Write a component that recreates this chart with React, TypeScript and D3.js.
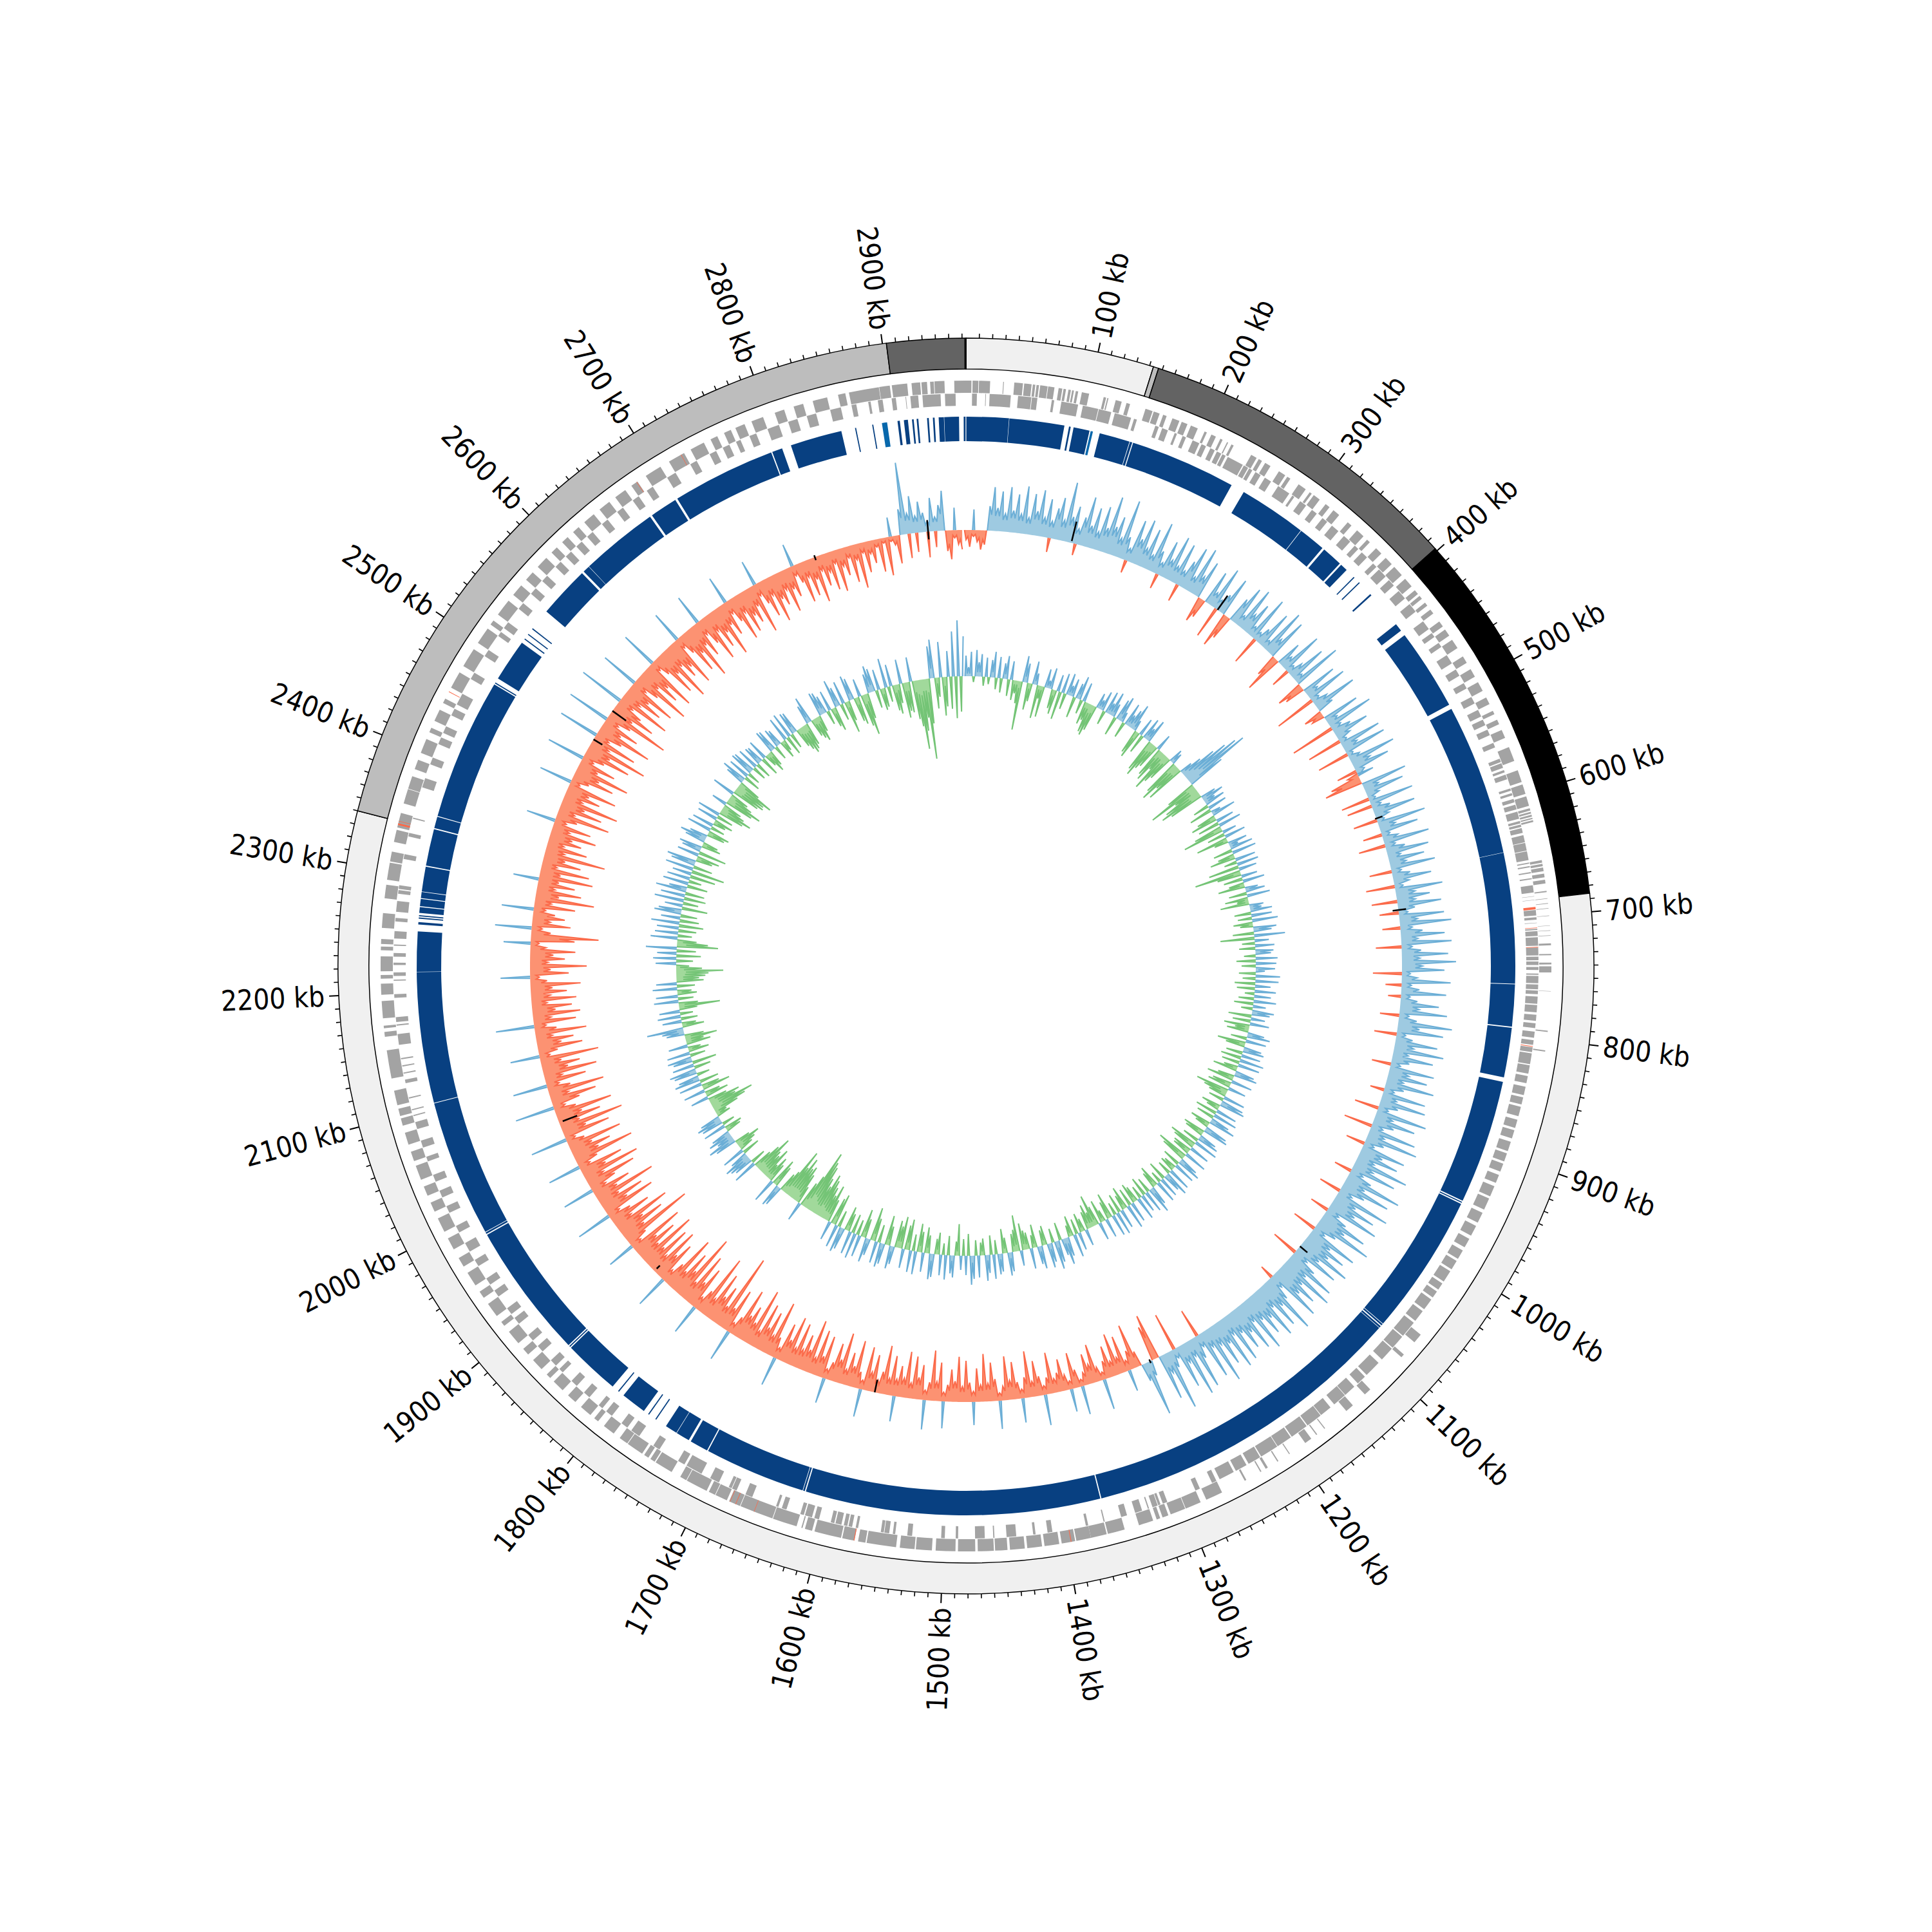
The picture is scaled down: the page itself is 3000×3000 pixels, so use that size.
import React from "react";
import * as d3 from "d3";

const genomeKb = 2963;

// outer ring regions: [start kb, end kb]
const regionStarts = [0, 143, 147, 398, 686, 2340, 2903];
const regionEnds = [143, 147, 398, 686, 2340, 2903, 2963];
const regionColors = ["#f0f0f0", "#bdbdbd", "#636363", "#000000", "#f0f0f0", "#bdbdbd", "#636363"];

const tickKb = d3.range(10, 2961, 10);

// conserved blocks ring
const blockDark: number[][] = [
  [0.3, 37], [37.3, 85], [89, 90.5], [93, 107], [116, 142.5], [143, 145], [145.8, 238], [250, 309], [309.5, 333], [335, 353],
  [354.5, 361], [369.5, 370.5], [376, 377], [390, 391.5], [424, 431], [436, 507], [511, 642.5], [642.8, 756], [756.5, 793],
  [794, 837], [841, 949], [950, 951], [952, 1075], [1075.5, 1077], [1078, 1079.5], [1080, 1364], [1365, 1621], [1622, 1623.5],
  [1624, 1712], [1713, 1729], [1731, 1743], [1743.4, 1754], [1764, 1765], [1771.5, 1772.5], [1777, 1799], [1804, 1805],
  [1811, 1860], [1861, 1862], [1863, 1981], [1982, 1983.5], [1984, 2103], [2103.5, 2217], [2217.3, 2252], [2258, 2260],
  [2263, 2264], [2265, 2266], [2268, 2273], [2273.7, 2280], [2280.7, 2286], [2286.5, 2308], [2309, 2341], [2342, 2352],
  [2352.7, 2476], [2477, 2478], [2482, 2519], [2522.5, 2523.5], [2527.5, 2528.5], [2533.5, 2534.5], [2553, 2598], [2600, 2606],
  [2606.3, 2674], [2676, 2700], [2702, 2792], [2793, 2802], [2810, 2855], [2867, 2868], [2882, 2883], [2904, 2906],
  [2909.5, 2913], [2916.5, 2918], [2920.5, 2922], [2929.5, 2931], [2934.5, 2936], [2939.5, 2944], [2944.3, 2957], [2961, 2962.6],
];
const blockLight: number[][] = [[108, 110], [2890.5, 2895]];

// genes, forward strand
const genesPlus: number[][] = [
  [0, 4.4], [5.3, 10], [10.5, 19.5], [30, 30.6], [39, 46], [47, 53], [54, 56], [57, 59], [60, 66], [66.5, 71.6], [75, 78], [79, 81],
  [83, 85], [86, 87.5], [89, 91], [94, 100], [112, 114], [115, 116], [122, 127], [131, 134], [147, 153], [154, 159], [162, 165],
  [170, 176], [178, 183], [186, 192], [198, 200], [204, 208], [212, 214], [218, 219], [222, 224], [240, 245], [247, 250], [253, 258],
  [266, 272], [274, 277], [285, 292], [296, 298], [300, 306], [312, 316], [320, 326], [335, 339], [345, 352], [356, 359], [366, 372],
  [377, 384], [387, 396], [400, 408], [412, 416], [418, 421], [425, 428], [432, 436], [444, 449], [452, 458], [462, 470], [478, 484],
  [490, 497], [502, 510], [516, 522], [528, 531], [536, 540], [545, 552], [560, 572], [580, 590], [592, 600], [602, 610], [612, 614],
  [615, 616.5], [617.5, 619], [620, 621], [622, 623.5], [655, 657], [658, 660], [661, 664], [666, 669], [671, 674], [680, 681],
  [686, 686.4], [690, 690.5], [694, 694.4], [700, 700.3], [708, 708.3], [712, 712.3], [716, 716.3], [722.5, 724], [731, 732], [738, 739.5],
  [741, 746], [761, 761.3], [793, 794], [809, 810], [1062, 1070], [1083, 1086], [1122, 1128], [1141, 1148], [1170, 1170.8], [1178, 1179],
  [1184, 1190], [1205, 1205.8], [1216, 1217], [1226, 1228], [1232, 1233], [1246, 1247.5], [1268, 1282], [1287, 1300], [1300.5, 1313],
  [1315, 1320], [1322, 1325], [1328, 1340], [1352, 1366], [1367, 1380], [1380, 1392], [1393, 1404], [1406, 1418], [1420, 1432],
  [1434, 1446], [1448, 1458], [1459, 1472], [1474, 1488], [1490, 1506], [1509, 1522], [1523, 1535], [1538, 1562], [1563, 1569],
  [1572, 1582], [1583, 1605], [1607, 1613], [1615, 1616], [1620, 1640], [1640.5, 1668], [1668.5, 1678], [1680, 1690], [1690.5, 1696],
  [1698, 1716], [1716.5, 1722], [1730, 1745], [1746, 1750], [1752, 1756], [1758, 1772], [1772.5, 1780], [1786, 1796], [1802, 1806],
  [1810, 1820], [1826, 1834], [1840, 1850], [1854, 1858], [1864, 1874], [1880, 1886], [1892, 1904], [1910, 1914], [1920, 1932],
  [1938, 1944], [1950, 1962], [1968, 1976], [1984, 1994], [2000, 2012], [2018, 2026], [2032, 2040], [2046, 2058], [2062, 2070],
  [2076, 2086], [2092, 2098], [2100, 2106], [2109, 2121], [2131, 2154], [2165, 2169], [2172, 2174], [2180, 2194], [2199, 2208],
  [2212, 2215], [2218, 2230], [2235, 2238], [2240, 2244], [2253, 2265], [2277, 2288], [2292, 2306], [2307, 2315], [2323, 2333],
  [2335, 2347], [2355, 2367], [2367.5, 2378], [2384, 2392], [2398, 2410], [2416, 2420], [2426, 2436], [2442, 2446], [2456, 2470],
  [2476, 2492], [2498, 2512], [2516, 2520], [2526, 2540], [2546, 2556], [2562, 2570], [2576, 2586], [2592, 2598], [2604, 2610],
  [2616, 2622], [2628, 2638], [2644, 2654], [2660, 2670], [2676, 2682], [2690, 2704], [2712, 2726], [2732, 2744], [2750, 2756],
  [2762, 2768], [2772, 2780], [2786, 2796], [2806, 2814], [2822, 2830], [2838, 2850], [2859, 2865], [2868, 2892.5], [2892.8, 2901.4],
  [2903, 2915.5], [2919, 2926], [2927, 2931.5], [2934, 2937], [2937.5, 2945.6], [2953.5, 2963],
];

// genes, reverse strand
const genesMinus: number[][] = [
  [5, 9], [16, 16.5], [19.5, 37], [43, 54], [54.5, 59], [71, 73], [79, 93], [97, 110], [110.5, 121], [124, 138], [140.5, 143],
  [159, 162], [165, 170], [176, 178], [183, 186], [192, 198], [200, 204], [208, 212], [214, 218], [219, 222], [224, 238], [239, 243],
  [244, 247], [250, 255], [259, 265], [272, 283], [286, 288], [294, 300], [306, 311], [317, 322], [327, 334], [340, 347], [352, 356],
  [360, 366], [373, 377], [380, 388], [392, 398], [404, 412], [418, 426], [436, 444], [448, 452], [458, 462], [470, 478], [484, 490],
  [497, 502], [510, 516], [522, 528], [531, 536], [540, 545], [552, 556], [566, 569], [570, 574], [576, 578], [580, 584], [592, 594],
  [596, 598], [601, 604], [606, 610], [612, 618], [620, 622], [623, 625], [626, 630], [632, 638], [638.5, 645], [645.5, 653], [655, 656],
  [658, 659], [663, 664], [668, 669], [674, 680], [683, 683.3], [686, 686.3], [694.5, 699], [700.5, 702.5], [705, 705.3], [710, 711],
  [712, 716], [717, 724], [725.5, 732], [733, 736], [737, 740], [741.5, 744], [747, 748], [749, 755], [756, 760], [761, 764], [766, 772],
  [773, 779], [781, 786], [788, 792], [795, 800], [802, 806], [808, 812], [813, 822], [823, 830], [832, 838], [841, 848], [850, 856],
  [858, 866], [869, 876], [878, 885], [888, 896], [898, 905], [907, 914], [917, 924], [927, 936], [938, 948], [951, 960], [963, 972],
  [975, 983], [986, 994], [996, 1004], [1006, 1016], [1018, 1024], [1026, 1032], [1034, 1044], [1046, 1056], [1058, 1072], [1073, 1085],
  [1086, 1098], [1102, 1116], [1118, 1126], [1130, 1140], [1140.5, 1152], [1156, 1166], [1166.5, 1180], [1181, 1196], [1197, 1210],
  [1210.5, 1226], [1227, 1238], [1240, 1250], [1252, 1265], [1268, 1272], [1283, 1287], [1312, 1316], [1318, 1320], [1320.5, 1325],
  [1328, 1329], [1334, 1340], [1347, 1352], [1366, 1367], [1380, 1382], [1410, 1414], [1424, 1426], [1440, 1448], [1458, 1459],
  [1466, 1474], [1488, 1490], [1499, 1502], [1526, 1530], [1540, 1542], [1545, 1549], [1549.5, 1552], [1571, 1573], [1576, 1579],
  [1580, 1583], [1585, 1590], [1591, 1594], [1604, 1608], [1610, 1616], [1617, 1620], [1632, 1636], [1639, 1641], [1662, 1668],
  [1676, 1680], [1680.5, 1683], [1692, 1700], [1708, 1722], [1724, 1730], [1748, 1754], [1768, 1776], [1780, 1786], [1796, 1802],
  [1806, 1810], [1820, 1826], [1834, 1840], [1850, 1854], [1858, 1864], [1874, 1880], [1886, 1892], [1904, 1910], [1914, 1920],
  [1932, 1938], [1944, 1950], [1962, 1968], [1976, 1984], [1994, 2000], [2012, 2018], [2026, 2032], [2040, 2046], [2058, 2062],
  [2070, 2076], [2086, 2092], [2097, 2098], [2102, 2103], [2112, 2113], [2125, 2128], [2133, 2134], [2139, 2140], [2145, 2146],
  [2157, 2166], [2173, 2174], [2176, 2180], [2196, 2199], [2210, 2211], [2214, 2217], [2223, 2225], [2230, 2233], [2239, 2240],
  [2245, 2251], [2259, 2262], [2267, 2276], [2282, 2285], [2286, 2289], [2311, 2315], [2330, 2333], [2345, 2346], [2372, 2380],
  [2392, 2398], [2410, 2416], [2420, 2426], [2436, 2442], [2446, 2456], [2470, 2476], [2492, 2498], [2512, 2516], [2520, 2526],
  [2540, 2546], [2556, 2562], [2570, 2576], [2586, 2592], [2598, 2604], [2610, 2616], [2622, 2628], [2638, 2644], [2654, 2660],
  [2670, 2676], [2684, 2690], [2704, 2712], [2726, 2732], [2744, 2750], [2756, 2762], [2768, 2772], [2780, 2786], [2796, 2806],
  [2814, 2822], [2830, 2838], [2850, 2859], [2868, 2872], [2882, 2884], [2890, 2894], [2901.5, 2905], [2913, 2913.5], [2917, 2923.5],
  [2927, 2942], [2945.6, 2954.4],
];

// rRNA / tRNA genes
const redPlus: number[][] = [[2337, 2338.5], [2340, 2340.4], [2452, 2452.5], [2681, 2681.4], [2723, 2723.4], [1572, 1572.6], [1656, 1656.4], [1672, 1672.5], [1677, 1677.4], [1396, 1396.6]];
const redMinus: number[][] = [[692, 694], [709, 709.4], [725, 725.5], [807, 807.5]];

// outer signal track, one value per equal window
const skewValues: number[] = [
  -15,-26,32,-18,-30,-22,38,68,36,62,28,70,34,60,30,74,26,64,38,72,30,60,-22,48,
  66,32,93,40,58,-18,44,78,34,64,28,70,38,90,44,62,30,93,36,-20,68,40,74,30,
  64,24,80,36,-24,58,30,72,26,66,-28,44,70,24,76,32,60,-40,-30,54,22,68,-50,30,
  62,-55,-38,40,64,18,70,30,52,16,72,-45,26,60,14,74,28,66,-35,-60,40,20,68,-30,
  24,60,14,78,-42,-32,56,20,66,-65,24,70,26,-30,-20,58,18,74,-70,30,56,22,-55,66,
  24,68,-50,18,74,30,58,-32,26,-48,-60,72,24,62,20,-45,70,-40,28,66,22,-38,76,26,
  60,-30,24,72,-42,30,66,20,56,26,70,-35,28,60,24,-45,74,30,52,-40,68,26,-30,70,
  28,80,-28,34,68,26,78,-40,30,72,28,84,32,66,-45,24,76,-25,28,70,-20,26,60,30,
  74,-30,28,84,34,72,-35,26,66,30,78,24,64,28,-30,70,32,62,26,76,30,-22,68,24,
  72,30,-38,80,28,66,34,-45,74,26,82,30,-30,70,36,64,28,86,32,72,-28,38,90,34,
  78,40,-35,88,36,72,42,84,-30,38,76,44,92,36,-38,80,40,70,46,86,38,74,-42,44,
  82,38,90,42,72,48,86,-22,40,94,44,76,36,84,46,70,40,88,34,78,44,68,36,80,
  30,84,38,70,32,92,28,76,-45,36,82,26,88,30,68,-60,28,94,32,72,-72,-55,24,86,
  28,-24,-70,-30,34,-58,-26,-66,-24,-50,-28,48,-22,-60,-30,-48,-20,45,-28,-56,36,-24,-50,-30,
  -22,-64,-26,48,-30,-55,-24,-72,-32,38,-26,-58,-30,-68,-22,44,-34,-60,-28,-74,-26,-52,36,-30,
  -64,-24,-70,-32,-50,-26,42,-60,-30,-78,-28,46,-54,-34,-66,-24,-72,-30,-48,40,-62,-26,-76,-34,
  -20,-58,-30,-68,44,-26,-74,-32,-52,-24,-80,-36,-60,-28,40,-66,-32,-72,-26,-84,-34,-56,-30,-70,
  -28,-76,-36,-60,46,-32,-88,-30,-66,-38,-74,-26,-92,-34,-58,-40,-80,-30,50,-70,-36,-122,-32,-62,
  -42,-78,-30,-100,-36,48,-68,-40,-84,-32,-110,-44,-72,-34,-90,-38,52,-66,-42,-82,-30,-76,-36,-94,
  -34,-70,-40,-88,44,-32,-115,-38,-76,-44,-92,-30,-66,-36,56,-84,-42,-72,-34,-98,-38,-62,50,-44,
  -80,-30,-92,-40,-70,52,-34,-96,-42,-64,-36,-86,-28,58,-74,-38,-100,-32,-68,-40,-90,-34,62,-44,
  -72,-30,-88,-36,54,-64,-28,-84,-40,-60,-32,-92,46,-30,-70,-38,-58,-26,-80,-34,60,-66,-28,-74,
  -36,-62,-24,-70,-30,-56,-34,-78,-26,46,-60,-32,-88,-28,-54,-36,-70,-24,42,-68,-105,-30,57,-60,
  -28,-50,-34,50,-64,-26,-92,-36,-70,-28,-58,40,-84,-32,-76,-24,-60,-34,-96,-30,-64,-26,-52,-36,
  -72,-28,-60,46,-34,-84,-26,-68,-38,-90,-30,-56,-36,-78,52,-28,-66,-40,-86,-32,-58,60,-34,-74,
  -38,-96,-30,-72,64,-42,-88,-34,-60,68,-40,-100,-36,-70,-44,72,-84,-30,-64,-38,-78,60,-42,-92,
  -34,-66,-44,-84,58,-30,-72,-40,-90,-36,-60,-46,-80,50,-32,-70,-42,-88,-36,-58,48,-44,-76,-30,
  -62,-40,-82,-34,-54,44,-38,-72,-30,-66,-42,-56,-32,-78,40,-36,-60,-28,-74,-40,-52,-30,-68,-34,
  -48,36,-30,-64,-26,-58,-34,-72,-24,-50,-30,-60,-20,-66,-28,-44,-18,-58,-24,-70,-16,-48,-20,-36,
  -12,-52,-8,-60,30,-14,-44,40,112,-38,58,-30,48,30,-40,52,-25,40,62,-32,-45,35,-22,-30,
];

// short black windows in the outer track: [kb, low, high]
const blackWindows: number[][] = [
  [115, 3, 34], [290, 0, 27], [578, -2, 10], [680, -9, 12], [1070, 0, 15], [1276, -3, 3], [1581, -20, 0], [1857, -12, -5],
  [2049, -30, -6], [2480, -16, 0], [2517, -26, 0], [2796, -5, 3], [2922, -12, 18],
];

// inner signal track, one value per equal window
const gcValues: number[] = [
  32,14,38,-9,41,22,35,-14,30,-11,27,40,-18,33,-22,24,36,-26,29,-31,-20,-35,-76,41,
  30,-42,-28,36,18,-52,-20,-48,29,12,33,-30,-38,26,-44,31,-25,34,16,28,-33,24,37,-22,
  30,-36,-28,-46,-50,-40,24,15,31,-22,35,18,38,21,-30,33,40,16,-25,36,19,30,42,17,
  -38,-44,28,-30,34,20,37,-52,-60,-45,-38,26,-48,-55,-32,-66,-50,-40,22,18,-58,-70,-45,-62,
  20,35,58,78,95,107,60,-48,-82,-40,-60,-70,-55,24,35,18,32,-25,30,-36,15,38,-30,-42,
  28,-34,36,-45,-65,22,-28,33,-50,-22,30,14,36,-30,38,-26,-40,32,-20,34,-48,28,-73,-38,
  25,-30,34,-24,-42,20,30,-28,36,-36,-18,-45,22,18,34,-26,32,-22,40,-30,-20,36,28,-33,
  48,-53,22,-20,30,-25,28,24,-18,34,-30,32,-22,30,14,-26,38,-20,36,-32,24,-28,33,-15,
  26,-24,35,-30,20,-18,34,28,-36,22,-28,30,-40,-22,-34,26,36,-25,32,-44,-30,28,33,-26,
  30,-32,38,-28,34,-22,-38,30,36,-26,-42,33,-30,-36,28,-52,-38,-28,34,-24,36,40,-30,-20,
  33,-34,38,-28,30,42,-32,-22,36,40,-35,-30,28,34,-26,38,-44,-36,32,-30,-28,36,-50,-40,
  30,38,-28,34,-20,-24,36,-22,40,28,-30,32,-18,35,-34,-26,30,42,-24,34,-30,28,-20,36,
  -25,-32,32,-28,38,-36,-24,30,-30,36,-20,34,-40,-28,30,-18,-36,28,-30,-50,-24,-38,-28,26,
  -20,-30,28,-24,36,-32,-18,30,42,26,-28,34,44,-22,30,38,-30,-24,36,28,-36,-20,32,-26,
  -30,-42,24,-56,-34,-28,30,36,-24,-38,28,32,-22,38,-30,28,40,-26,-20,34,-24,36,45,-34,
  30,-26,22,-49,-22,34,28,-30,38,-18,32,-34,-24,36,40,-28,-40,30,-32,-44,36,-26,34,-48,
  -38,30,-50,-34,-42,28,36,-30,-46,32,38,-28,34,-36,-52,26,38,-30,-44,34,-24,40,-30,36,
  -28,-38,34,40,-26,36,-50,-42,30,-36,-58,-40,-52,-62,-70,-48,-60,-78,-85,-99,-55,-40,30,-28,
  -48,-60,-55,-70,-52,-78,-38,-30,32,36,-34,-44,38,-30,-40,-24,-50,-36,-42,-63,-45,-30,38,-24,
  30,36,42,28,-28,36,-22,-30,-40,-25,34,44,26,38,30,-24,-28,36,-20,34,40,32,-22,-18,
  -40,-55,-69,-42,-50,-30,28,-36,-24,34,-44,-28,36,-30,40,32,-20,36,42,-26,34,-38,30,38,
  -24,36,-32,-20,30,-38,-28,-50,-30,28,34,57,-34,-22,30,-26,36,-20,32,-28,-64,-30,38,-24,
  34,-30,-22,38,-28,32,-42,-35,-45,-50,-73,-40,-20,32,-26,36,-38,30,-30,48,-64,-48,-30,42,
  -22,36,-28,34,-38,44,-30,30,-26,42,36,-40,28,-24,46,-34,38,-30,48,28,-32,40,-20,36,
  -40,30,-52,44,-30,38,46,-26,-36,34,-44,30,36,-30,-24,32,42,28,-28,-34,38,-22,34,-20,
  -30,32,-26,36,-40,-52,-38,-30,24,-45,-58,-40,-30,36,-44,-52,-50,-61,-35,30,40,-26,34,-20,
  38,36,-22,34,-25,30,28,-30,32,-20,-33,-25,36,34,-22,30,26,-28,-18,38,-30,40,-24,36,
  34,-30,-38,-46,-42,-36,30,42,-28,-34,-40,-26,38,36,28,-22,32,-30,-38,44,30,-26,36,-50,
  -32,40,34,-38,-44,28,-50,-65,-40,30,42,36,-28,32,-34,-30,46,-24,34,-40,-46,-30,38,-55,
  -45,-48,38,-60,-72,-108,-80,-60,-125,-70,50,60,-48,-30,55,-60,-46,40,-50,70,-65,87,-55,62,
];

const cx = 1500;
const cy = 1500;
const angle = d3.scaleLinear().domain([0, genomeKb]).range([0, 2 * Math.PI]);
const deg = (kb: number) => (angle(kb) * 180) / Math.PI;

type Pt = { i: number; v: number };

// Each window is drawn as its own narrow spike; `valley` sets how far the outline
// falls back towards the baseline between two neighbouring windows of one sign.
function runsOf(vals: number[], sign: number, bridge: boolean, valley: number): Pt[][] {
  const at = (k: number) => (k >= 0 && k < vals.length ? vals[k] * sign : 0);
  const out: Pt[][] = [];
  let cur: Pt[] | null = null;
  const add = (p: Pt) => {
    if (!cur) {
      cur = [{ i: p.i - 0.4, v: 0 }];
    } else {
      const last = cur[cur.length - 1];
      cur.push({ i: (last.i + p.i) / 2, v: Math.min(last.v, p.v) * valley });
    }
    cur.push(p);
  };
  vals.forEach((raw, i) => {
    const v = raw * sign;
    const p = at(i - 1);
    const n = at(i + 1);
    const isoOpp = bridge && v <= 0 && p > 0 && n > 0 && (at(i - 2) > 0 || at(i + 2) > 0);
    const isoSame = bridge && v > 0 && p <= 0 && n <= 0 && (at(i - 2) <= 0 || at(i + 2) <= 0);
    if (isoOpp) {
      add({ i, v: Math.min(p, n) * 0.55 });
    } else if (isoSame) {
      out.push([{ i: i - 0.28, v: 0 }, { i, v }, { i: i + 0.28, v: 0 }]);
    } else if (v > 0) {
      add({ i, v });
    } else if (cur) {
      cur.push({ i: i - 0.6, v: 0 });
      out.push(cur);
      cur = null;
    }
  });
  if (cur) out.push(cur);
  return out;
}

function Track({ vals, base, posFill, posLine, negFill, negLine, bridge, valley }: any) {
  const idx = d3.scaleLinear().domain([0, vals.length]).range([0, genomeKb]);
  const draw = (sign: number, fill: string, lineCol: string) => {
    const runs = runsOf(vals, sign, bridge, valley);
    const area = d3
      .areaRadial<Pt>()
      .angle((d) => angle(idx(d.i)))
      .innerRadius(base)
      .outerRadius((d) => base + sign * d.v);
    const line = d3
      .lineRadial<Pt>()
      .angle((d) => angle(idx(d.i)))
      .radius((d) => base + sign * d.v);
    return (
      <g key={sign}>
        <path d={runs.map((x) => area(x)).join("")} fill={fill} stroke="none" />
        <path d={runs.map((x) => line(x)).join("")} fill="none" stroke={lineCol} strokeWidth={2} />
      </g>
    );
  };
  return (
    <g>
      {draw(1, posFill, posLine)}
      {draw(-1, negFill, negLine)}
    </g>
  );
}

const arc = d3.arc();
function sector(kb0: number, kb1: number, r0: number, r1: number) {
  return arc({ innerRadius: r0, outerRadius: r1, startAngle: angle(kb0), endAngle: angle(kb1) }) as string;
}

export default function App() {
  const Rout = 975;
  const Rin = 927;
  return (
    <svg width={3000} height={3000} viewBox="0 0 3000 3000" style={{ position: "absolute", left: 0, top: 0, display: "block", background: "#fff" }}>
      <g transform={`translate(${cx},${cy})`}>
        {regionStarts.map((s, i) => (
          <path key={i} d={sector(s, regionEnds[i], Rin, Rout)} fill={regionColors[i]} stroke="#000" strokeWidth={1.5} />
        ))}
        <path d={sector(genomeKb - 1.2, genomeKb, Rin, Rout)} fill="#000" />

        {tickKb.map((kb) => {
          const major = kb % 100 === 0;
          const a = deg(kb);
          return (
            <line key={kb} x1={0} x2={0} y1={-Rout} y2={-(Rout + (major ? 15 : 7))} stroke="#000" strokeWidth={major ? 2 : 1.6} transform={`rotate(${a})`} />
          );
        })}
        {tickKb
          .filter((kb) => kb % 100 === 0)
          .map((kb) => {
            const a = deg(kb);
            const flip = a > 180;
            return (
              <text
                key={kb}
                transform={`rotate(${a}) translate(0,${-(Rout + 22)}) rotate(${flip ? 90 : -90})`}
                textAnchor={flip ? "end" : "start"}
                dominantBaseline="central"
                fontFamily="'DejaVu Sans'"
                fontSize={44}
                style={{ fontStretch: "condensed" }}
                fill="#000"
              >
                {`${kb} kb`}
              </text>
            );
          })}

        {genesPlus.map((g, i) => (
          <path key={i} d={sector(g[0], g[1], 890, 909)} fill="#a3a3a3" />
        ))}
        {genesMinus.map((g, i) => (
          <path key={i} d={sector(g[0], g[1], 870, 889)} fill="#a3a3a3" />
        ))}
        {redPlus.map((g, i) => (
          <path key={i} d={sector(g[0], g[1], 890, 909)} fill="#fb6a4a" />
        ))}
        {redMinus.map((g, i) => (
          <path key={i} d={sector(g[0], g[1], 870, 889)} fill="#fb6a4a" />
        ))}

        {blockDark.map((g, i) => (
          <path key={i} d={sector(g[0], g[1], 815, 853)} fill="#084081" />
        ))}
        {blockLight.map((g, i) => (
          <path key={i} d={sector(g[0], g[1], 815, 853)} fill="#0868ac" />
        ))}

        <Track vals={skewValues} base={677} posFill="#9ecae1" posLine="#6baed6" negFill="#fc9272" negLine="#fb6a4a" bridge={true} valley={0.65} />
        {blackWindows.map((w, i) => (
          <line key={i} x1={0} x2={0} y1={-(677 + w[1])} y2={-(677 + w[2])} stroke="#000" strokeWidth={2.5} transform={`rotate(${deg(w[0])})`} />
        ))}
        <Track vals={gcValues} base={450} posFill="#9ecae1" posLine="#6baed6" negFill="#a1d99b" negLine="#74c476" bridge={false} valley={0.3} />
      </g>
    </svg>
  );
}
